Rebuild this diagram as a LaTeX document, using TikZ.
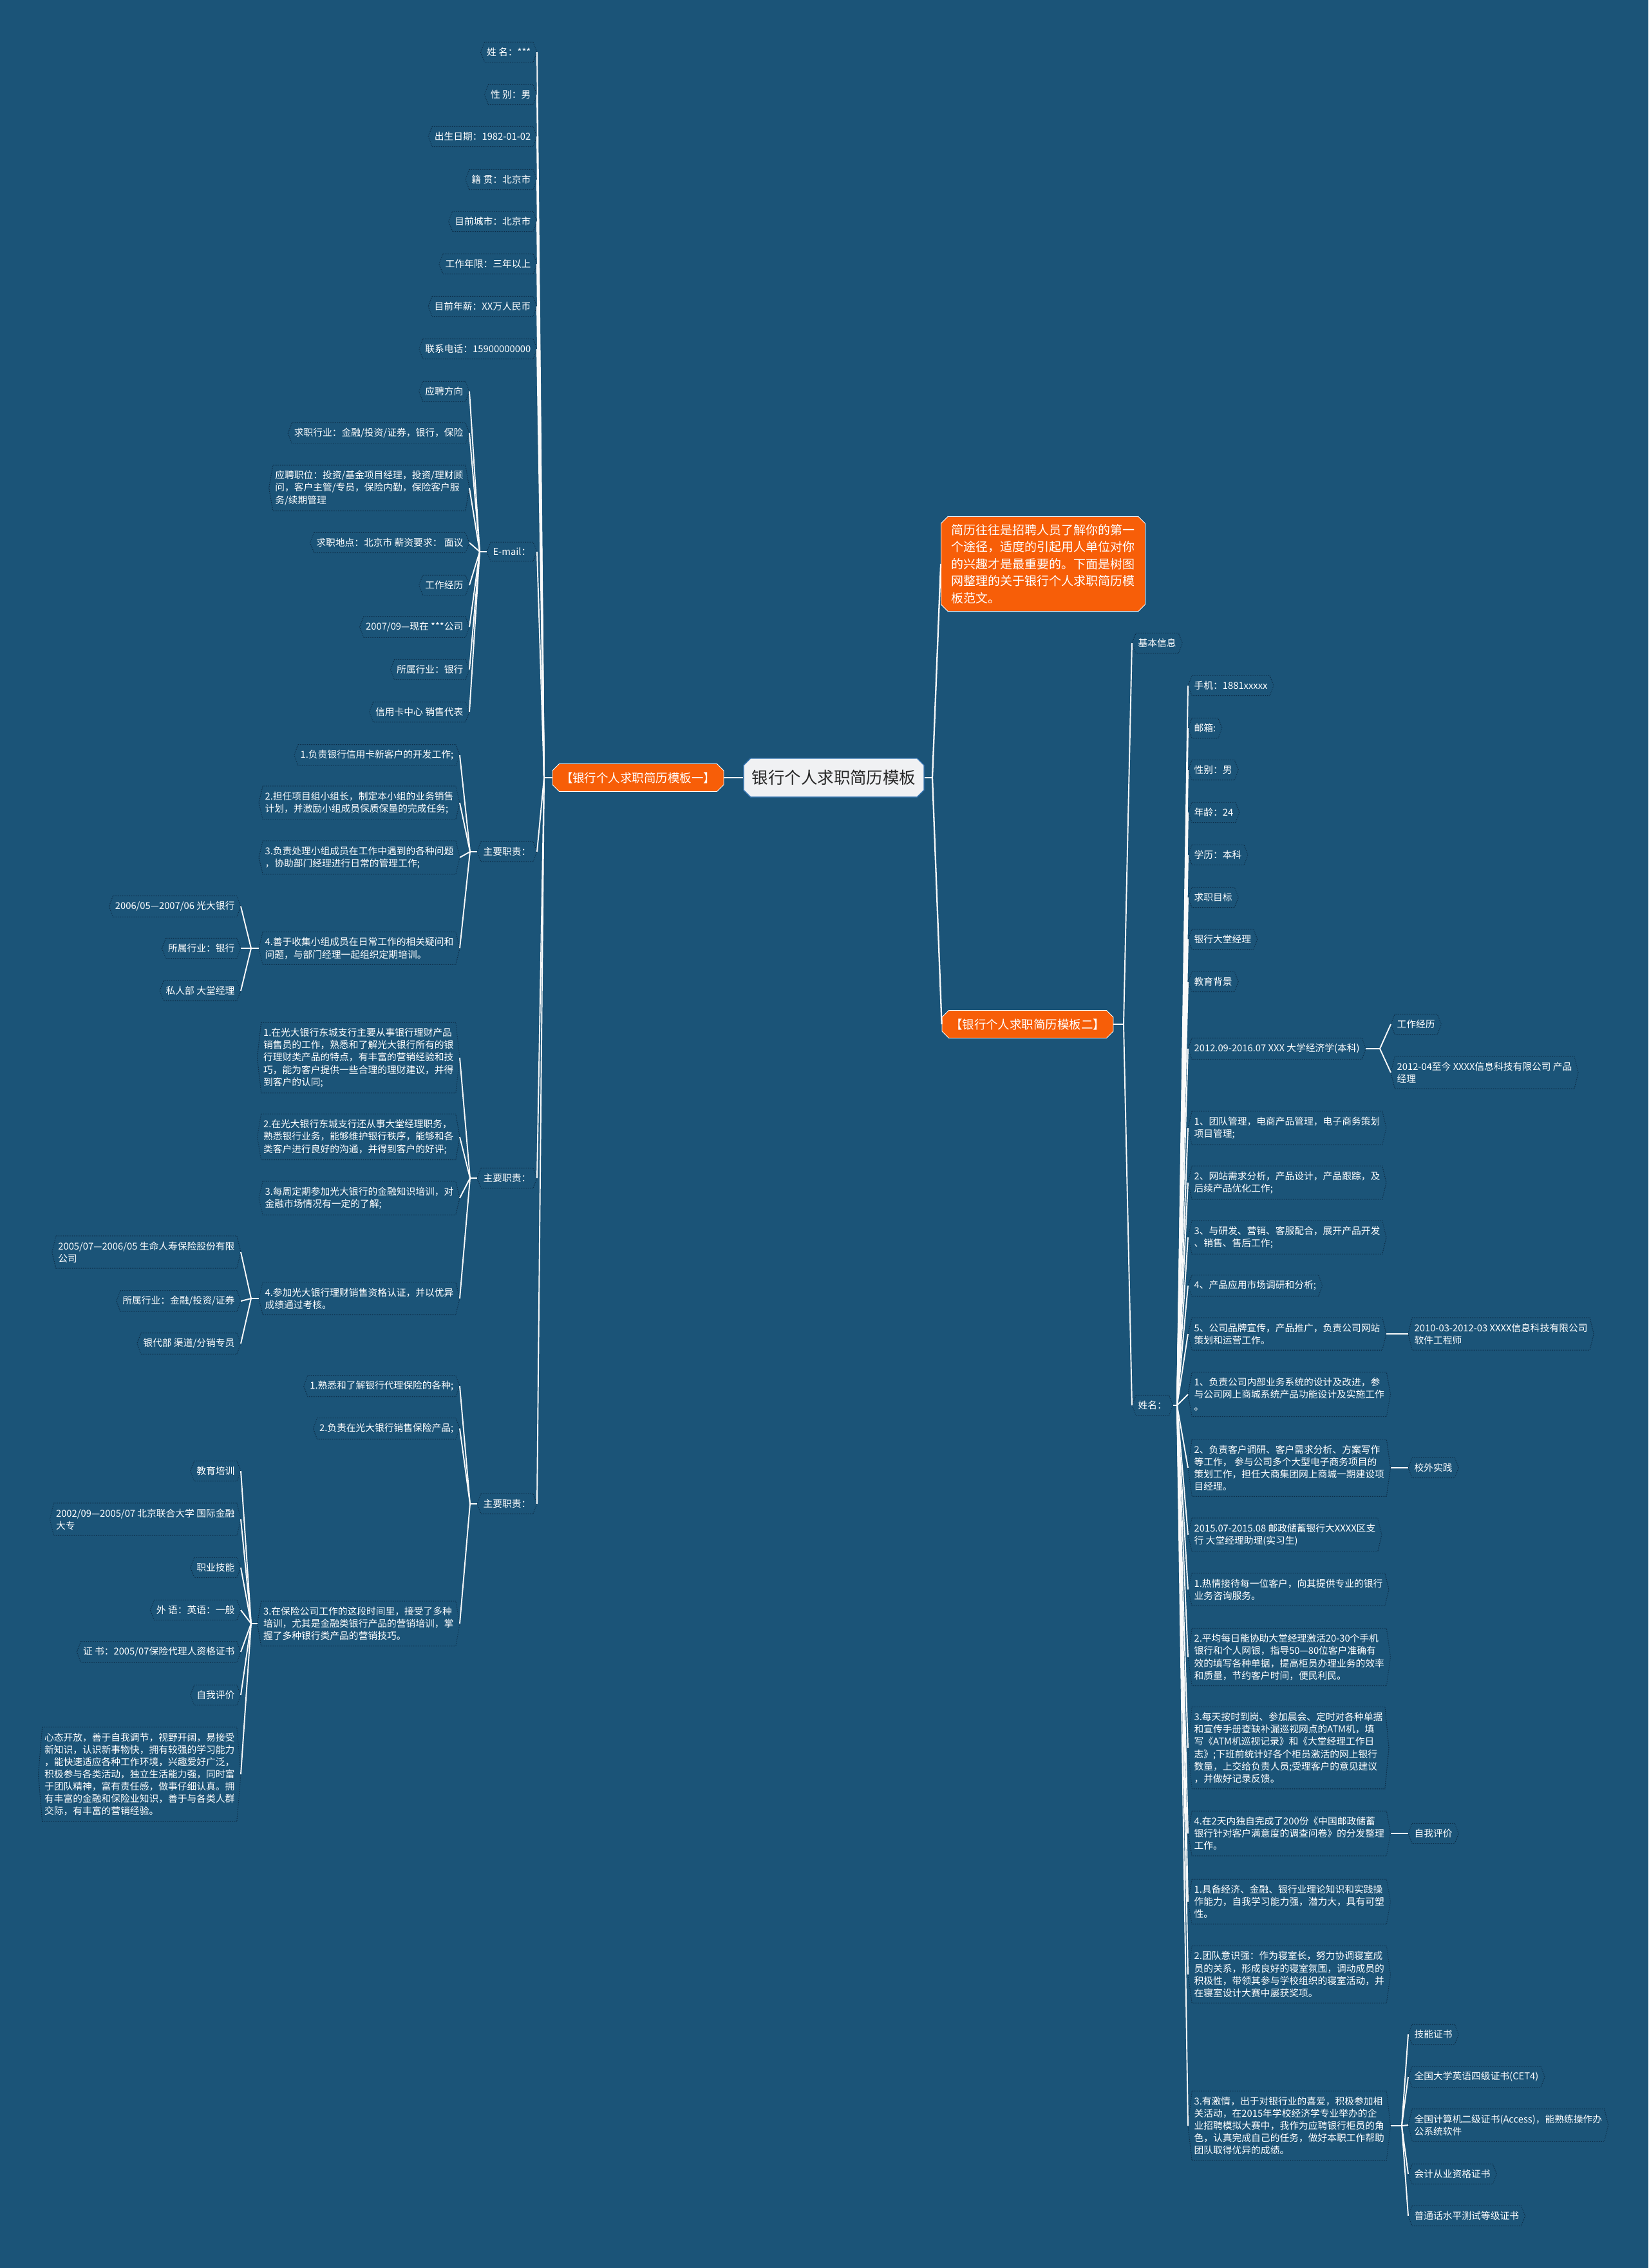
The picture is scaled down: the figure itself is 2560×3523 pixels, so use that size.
\documentclass[tikz,border=0pt]{standalone}
\usepackage{fontspec}
\setmainfont{Noto Sans CJK SC}
\usetikzlibrary{shapes.misc}

\definecolor{bgblue}{RGB}{27,84,120}
\definecolor{framecol}{RGB}{12,44,70}
\definecolor{linkcol}{RGB}{250,250,250}
\definecolor{topicorange}{RGB}{247,94,8}
\definecolor{rootfill}{RGB}{240,241,243}
\definecolor{rootline}{RGB}{58,120,180}
\definecolor{roottext}{RGB}{40,40,40}

\tikzset{
  item/.style={font=\fontsize{8.4pt}{10.9pt}\selectfont, text=white, align=left,
    inner xsep=2pt, inner ysep=5pt, outer xsep=3.5pt, outer ysep=0pt},
  itemL/.style={item, anchor=east},
  itemR/.style={item, anchor=west},
  hexline/.style={draw=framecol, densely dotted, line width=0.6pt},
  link/.style={draw=linkcol, line width=1.1pt},
  topic/.style={chamfered rectangle, chamfered rectangle xsep=3pt, chamfered rectangle ysep=3pt,
    fill=topicorange, draw=white, line width=0.5pt, text=white,
    font=\fontsize{10.5pt}{15pt}\selectfont},
}

\begin{document}
\begin{tikzpicture}[x=0.02cm, y=-0.02cm]
  \fill[bgblue] (0,0) rectangle (2560,3523);
  \useasboundingbox (0,0) rectangle (2560,3523);

  % centre
  \node[chamfered rectangle, chamfered rectangle xsep=3pt, chamfered rectangle ysep=3pt,
    fill=rootfill, draw=rootline, line width=0.8pt, text=roottext,
    font=\fontsize{14.5pt}{17pt}\selectfont, minimum width=5.6cm, minimum height=1.2cm]
    (root) at (1295,1208) {银行个人求职简历模板};
  \node[topic, align=left, font=\fontsize{10.8pt}{15.1pt}\selectfont,
    minimum width=6.34cm, minimum height=2.94cm] (intro) at (1620,876)
    {简历往往是招聘人员了解你的第一\\个途径，适度的引起用人单位对你\\的兴趣才是最重要的。下面是树图\\网整理的关于银行个人求职简历模\\板范文。};
  \node[topic, minimum width=5.32cm, minimum height=0.86cm] (b1) at (991,1208) {【银行个人求职简历模板一】};
  \node[topic, minimum width=5.32cm, minimum height=0.86cm] (b2) at (1596,1591) {【银行个人求职简历模板二】};

  \coordinate (jroot) at (1448,1208);
  \coordinate (jb1) at (845,1208);
  \coordinate (jmail) at (745,857);
  \coordinate (jd1) at (730,1323);
  \coordinate (jd1d) at (390,1473);
  \coordinate (jd2) at (730,1830);
  \coordinate (jd2d) at (390,2017);
  \coordinate (jd3) at (730,2336);
  \coordinate (jd3c) at (390,2522);
  \coordinate (jb2) at (1745,1591);
  \coordinate (jname) at (1828,2183);
  \coordinate (jr9) at (2143,1629);
  \coordinate (jr24) at (2177,3302);

  % template one
  \node[itemL] (p1) at (834,81)  {姓 名：***};
  \node[itemL] (p2) at (834,147) {性 别：男};
  \node[itemL] (p3) at (834,212) {出生日期：1982-01-02};
  \node[itemL] (p4) at (834,279) {籍 贯：北京市};
  \node[itemL] (p5) at (834,344) {目前城市：北京市};
  \node[itemL] (p6) at (834,410) {工作年限：三年以上};
  \node[itemL] (p7) at (834,476) {目前年薪：XX万人民币};
  \node[itemL] (p8) at (834,542) {联系电话：15900000000};
  \node[itemL] (mail) at (834,857) {E-mail：};
  \node[itemL] (duty1) at (834,1323) {主要职责：};
  \node[itemL] (duty2) at (834,1830) {主要职责：};
  \node[itemL] (duty3) at (834,2336) {主要职责：};

  \node[itemL] (m1) at (729,608)  {应聘方向};
  \node[itemL] (m2) at (729,673)  {求职行业：金融/投资/证券，银行，保险};
  \node[itemL] (m3) at (729,758)  {应聘职位：投资/基金项目经理，投资/理财顾\\问，客户主管/专员，保险内勤，保险客户服\\务/续期管理};
  \node[itemL] (m4) at (729,843)  {求职地点：北京市 薪资要求： 面议};
  \node[itemL] (m5) at (729,909)  {工作经历};
  \node[itemL] (m6) at (729,974)  {2007/09—现在 ***公司};
  \node[itemL] (m7) at (729,1040) {所属行业：银行};
  \node[itemL] (m8) at (729,1106) {信用卡中心 销售代表};

  \node[itemL] (d1a) at (714,1173) {1.负责银行信用卡新客户的开发工作;};
  \node[itemL] (d1b) at (714,1247) {2.担任项目组小组长，制定本小组的业务销售\\计划，并激励小组成员保质保量的完成任务;};
  \node[itemL] (d1c) at (714,1332) {3.负责处理小组成员在工作中遇到的各种问题\\，协助部门经理进行日常的管理工作;};
  \node[itemL] (d1d) at (714,1473) {4.善于收集小组成员在日常工作的相关疑问和\\问题，与部门经理一起组织定期培训。};
  \node[itemL] (d1x) at (374,1408) {2006/05—2007/06 光大银行};
  \node[itemL] (d1y) at (374,1473) {所属行业：银行};
  \node[itemL] (d1z) at (374,1539) {私人部 大堂经理};

  \node[itemL] (d2a) at (714,1643) {1.在光大银行东城支行主要从事银行理财产品\\销售员的工作，熟悉和了解光大银行所有的银\\行理财类产品的特点，有丰富的营销经验和技\\巧，能为客户提供一些合理的理财建议，并得\\到客户的认同;};
  \node[itemL] (d2b) at (714,1766) {2.在光大银行东城支行还从事大堂经理职务，\\熟悉银行业务，能够维护银行秩序，能够和各\\类客户进行良好的沟通，并得到客户的好评;};
  \node[itemL] (d2c) at (714,1861) {3.每周定期参加光大银行的金融知识培训，对\\金融市场情况有一定的了解;};
  \node[itemL] (d2d) at (714,2017) {4.参加光大银行理财销售资格认证，并以优异\\成绩通过考核。};
  \node[itemL] (d2x) at (374,1945) {2005/07—2006/05 生命人寿保险股份有限\\公司};
  \node[itemL] (d2y) at (374,2021) {所属行业：金融/投资/证券};
  \node[itemL] (d2z) at (374,2087) {银代部 渠道/分销专员};

  \node[itemL] (d3a) at (714,2153) {1.熟悉和了解银行代理保险的各种;};
  \node[itemL] (d3b) at (714,2219) {2.负责在光大银行销售保险产品;};
  \node[itemL] (d3c) at (714,2522) {3.在保险公司工作的这段时间里，接受了多种\\培训，尤其是金融类银行产品的营销培训，掌\\握了多种银行类产品的营销技巧。};
  \node[itemL] (e1) at (374,2285) {教育培训};
  \node[itemL] (e2) at (374,2360) {2002/09—2005/07 北京联合大学 国际金融\\大专};
  \node[itemL] (e3) at (374,2435) {职业技能};
  \node[itemL] (e4) at (374,2501) {外 语：英语：一般};
  \node[itemL] (e5) at (374,2566) {证 书：2005/07保险代理人资格证书};
  \node[itemL] (e6) at (374,2633) {自我评价};
  \node[itemL] (e7) at (374,2756) {心态开放，善于自我调节，视野开阔，易接受\\新知识，认识新事物快，拥有较强的学习能力\\，能快速适应各种工作环境，兴趣爱好广泛，\\积极参与各类活动，独立生活能力强，同时富\\于团队精神，富有责任感，做事仔细认真。拥\\有丰富的金融和保险业知识，善于与各类人群\\交际，有丰富的营销经验。};

  % template two
  \node[itemR] (basic) at (1758,999)  {基本信息};
  \node[itemR] (name)  at (1758,2183) {姓名：};

  \node[itemR] (r1) at (1845,1065) {手机：1881xxxxx};
  \node[itemR] (r2) at (1845,1131) {邮箱:};
  \node[itemR] (r3) at (1845,1196) {性别：男};
  \node[itemR] (r4) at (1845,1262) {年龄：24};
  \node[itemR] (r5) at (1845,1328) {学历：本科};
  \node[itemR] (r6) at (1845,1394) {求职目标};
  \node[itemR] (r7) at (1845,1459) {银行大堂经理};
  \node[itemR] (r8) at (1845,1525) {教育背景};
  \node[itemR] (r9) at (1845,1629) {2012.09-2016.07 XXX 大学经济学(本科)};
  \node[itemR] (r10) at (1845,1752) {1、团队管理，电商产品管理，电子商务策划\\项目管理;};
  \node[itemR] (r11) at (1845,1837) {2、网站需求分析，产品设计，产品跟踪，及\\后续产品优化工作;};
  \node[itemR] (r12) at (1845,1922) {3、与研发、营销、客服配合，展开产品开发\\、销售、售后工作;};
  \node[itemR] (r13) at (1845,1997) {4、产品应用市场调研和分析;};
  \node[itemR] (r14) at (1845,2072) {5、公司品牌宣传，产品推广，负责公司网站\\策划和运营工作。};
  \node[itemR] (r15) at (1845,2166) {1、负责公司内部业务系统的设计及改进，参\\与公司网上商城系统产品功能设计及实施工作\\。};
  \node[itemR] (r16) at (1845,2280) {2、负责客户调研、客户需求分析、方案写作\\等工作， 参与公司多个大型电子商务项目的\\策划工作，担任大商集团网上商城一期建设项\\目经理。};
  \node[itemR] (r17) at (1845,2384) {2015.07-2015.08 邮政储蓄银行大XXXX区支\\行 大堂经理助理(实习生)};
  \node[itemR] (r18) at (1845,2469) {1.热情接待每一位客户，向其提供专业的银行\\业务咨询服务。};
  \node[itemR] (r19) at (1845,2574) {2.平均每日能协助大堂经理激活20-30个手机\\银行和个人网银，指导50—80位客户准确有\\效的填写各种单据，提高柜员办理业务的效率\\和质量，节约客户时间，便民利民。};
  \node[itemR] (r20) at (1845,2715) {3.每天按时到岗、参加晨会、定时对各种单据\\和宣传手册查缺补漏巡视网点的ATM机，填\\写《ATM机巡视记录》和《大堂经理工作日\\志》;下班前统计好各个柜员激活的网上银行\\数量，上交给负责人员;受理客户的意见建议\\，并做好记录反馈。};
  \node[itemR] (r21) at (1845,2848) {4.在2天内独自完成了200份《中国邮政储蓄\\银行针对客户满意度的调查问卷》的分发整理\\工作。};
  \node[itemR] (r22) at (1845,2954) {1.具备经济、金融、银行业理论知识和实践操\\作能力，自我学习能力强，潜力大，具有可塑\\性。};
  \node[itemR] (r23) at (1845,3067) {2.团队意识强：作为寝室长，努力协调寝室成\\员的关系，形成良好的寝室氛围，调动成员的\\积极性，带领其参与学校组织的寝室活动，并\\在寝室设计大赛中屡获奖项。};
  \node[itemR] (r24) at (1845,3302) {3.有激情，出于对银行业的喜爱，积极参加相\\关活动，在2015年学校经济学专业举办的企\\业招聘模拟大赛中，我作为应聘银行柜员的角\\色，认真完成自己的任务，做好本职工作帮助\\团队取得优异的成绩。};

  \node[itemR] (s1) at (2160,1591) {工作经历};
  \node[itemR] (s2) at (2160,1666) {2012-04至今 XXXX信息科技有限公司 产品\\经理};
  \node[itemR] (s3) at (2187,2072) {2010-03-2012-03 XXXX信息科技有限公司\\软件工程师};
  \node[itemR] (s4) at (2187,2280) {校外实践};
  \node[itemR] (s5) at (2187,2848) {自我评价};
  \node[itemR] (c1) at (2187,3160) {技能证书};
  \node[itemR] (c2) at (2187,3226) {全国大学英语四级证书(CET4)};
  \node[itemR] (c3) at (2187,3301) {全国计算机二级证书(Access)，能熟练操作办\\公系统软件};
  \node[itemR] (c4) at (2187,3377) {会计从业资格证书};
  \node[itemR] (c5) at (2187,3442) {普通话水平测试等级证书};

  % frames
  \foreach \n in {p1,p2,p3,p4,p5,p6,p7,p8,mail,duty1,duty2,duty3,
      m1,m2,m3,m4,m5,m6,m7,m8,d1a,d1b,d1c,d1d,d1x,d1y,d1z,
      d2a,d2b,d2c,d2d,d2x,d2y,d2z,d3a,d3b,d3c,e1,e2,e3,e4,e5,e6,e7,
      basic,name,r1,r2,r3,r4,r5,r6,r7,r8,r9,r10,r11,r12,r13,r14,r15,r16,
      r17,r18,r19,r20,r21,r22,r23,r24,s1,s2,s3,s4,s5,c1,c2,c3,c4,c5}
    \draw[hexline] ([xshift=3.5pt]\n.north west) -- ([xshift=-3.5pt]\n.north east) -- (\n.east)
      -- ([xshift=-3.5pt]\n.south east) -- ([xshift=3.5pt]\n.south west) -- (\n.west) -- cycle;

  % connectors
  \draw[link, line width=1.5pt] (root.west) -- (b1.east);
  \draw[link, line width=1.5pt] (root.east) -- (jroot);
  \draw[link, line width=1.3pt] (jroot) -- (intro.west);
  \draw[link, line width=1.3pt] (jroot) -- (b2.west);

  \foreach \from/\to in {b1/jb1,mail/jmail,duty1/jd1,d1d/jd1d,duty2/jd2,d2d/jd2d,duty3/jd3,d3c/jd3c}
    \draw[link] (\from.west) -- (\to);
  \foreach \from/\to in {jb1/p1,jb1/p2,jb1/p3,jb1/p4,jb1/p5,jb1/p6,jb1/p7,jb1/p8,
      jb1/mail,jb1/duty1,jb1/duty2,jb1/duty3,
      jmail/m1,jmail/m2,jmail/m3,jmail/m4,jmail/m5,jmail/m6,jmail/m7,jmail/m8,
      jd1/d1a,jd1/d1b,jd1/d1c,jd1/d1d,jd1d/d1x,jd1d/d1y,jd1d/d1z,
      jd2/d2a,jd2/d2b,jd2/d2c,jd2/d2d,jd2d/d2x,jd2d/d2y,jd2d/d2z,
      jd3/d3a,jd3/d3b,jd3/d3c,jd3c/e1,jd3c/e2,jd3c/e3,jd3c/e4,jd3c/e5,jd3c/e6,jd3c/e7}
    \draw[link] (\from) -- (\to.east);

  \foreach \from/\to in {b2/jb2,name/jname,r9/jr9,r24/jr24}
    \draw[link] (\from.east) -- (\to);
  \foreach \from/\to in {r14/s3,r16/s4,r21/s5}
    \draw[link] (\from.east) -- (\to.west);
  \foreach \from/\to in {jb2/basic,jb2/name,
      jname/r1,jname/r2,jname/r3,jname/r4,jname/r5,jname/r6,jname/r7,jname/r8,
      jname/r9,jname/r10,jname/r11,jname/r12,jname/r13,jname/r14,jname/r15,jname/r16,
      jname/r17,jname/r18,jname/r19,jname/r20,jname/r21,jname/r22,jname/r23,jname/r24,
      jr9/s1,jr9/s2,jr24/c1,jr24/c2,jr24/c3,jr24/c4,jr24/c5}
    \draw[link] (\from) -- (\to.west);

\end{tikzpicture}
\end{document}
